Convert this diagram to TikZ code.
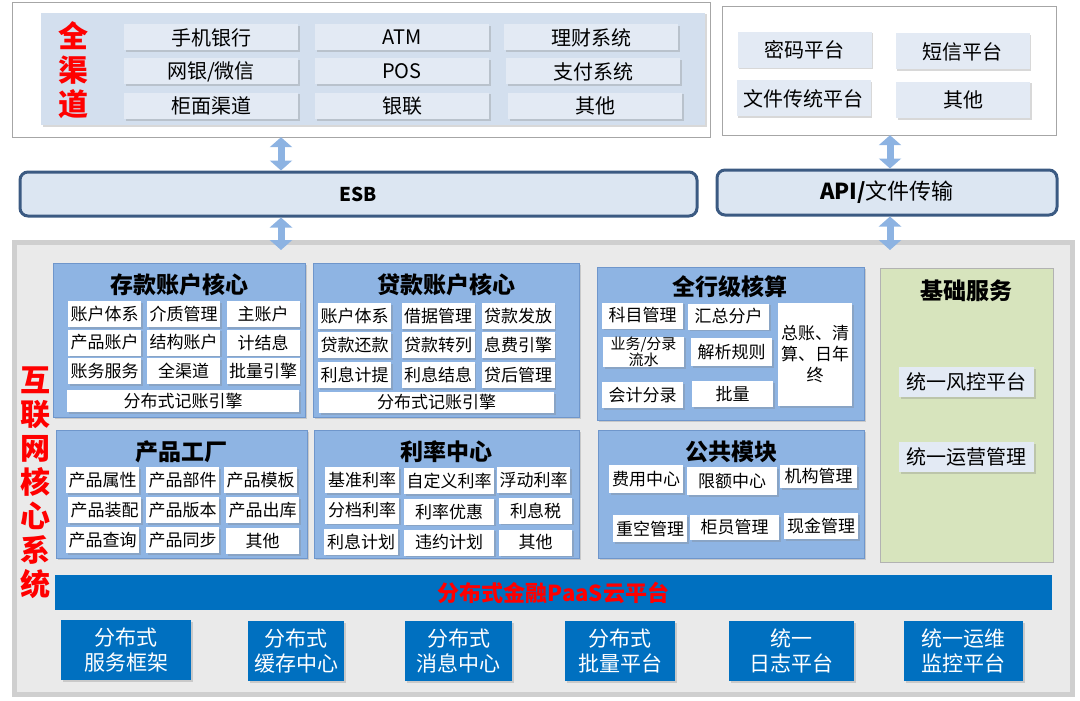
\documentclass[tikz,border=0pt]{standalone}
\usepackage{fontspec}
\setmainfont{Noto Sans CJK SC}
\usetikzlibrary{arrows.meta,shadows}

\definecolor{chanpanel}{HTML}{D3DFEE}
\definecolor{chanitem}{HTML}{E3EAF4}
\definecolor{barfill}{HTML}{DCE6F2}
\definecolor{baredge}{HTML}{3B5A82}
\definecolor{arrowblue}{HTML}{8DB3E2}
\definecolor{modfill}{HTML}{8EB4E3}
\definecolor{modedge}{HTML}{6F96CB}
\definecolor{basefill}{HTML}{D7E4BD}
\definecolor{paasblue}{HTML}{0070C0}
\definecolor{corered}{HTML}{FF0000}
\definecolor{corefill}{HTML}{EAEAEA}
\definecolor{coreedge}{HTML}{CFCFCF}

\tikzset{
  softshadow/.style={drop shadow={shadow xshift=1.5pt,shadow yshift=-1.5pt,opacity=.3}},
  frame/.style={draw=gray!70, fill=white, inner sep=0pt},
  chan/.style={fill=chanitem, softshadow, inner sep=0pt, minimum width=174pt, minimum height=26pt, font=\fontsize{20}{22}\selectfont},
  side/.style={fill=chanitem, softshadow, inner sep=0pt, minimum width=134pt, minimum height=36pt, font=\fontsize{20}{22}\selectfont},
  bus/.style={draw=baredge, line width=3pt, fill=barfill, rounded corners=8pt, inner sep=0pt},
  dblarrow/.style={draw=arrowblue, line width=7pt, {Triangle[width=22pt,length=10pt]}-{Triangle[width=22pt,length=10pt]}},
  module/.style={draw=modedge, fill=modfill, softshadow, inner sep=0pt},
  modtitle/.style={font=\bfseries\fontsize{23}{25}\selectfont, inner sep=0pt},
  cell/.style={fill=white, softshadow, inner sep=0pt, minimum width=73pt, minimum height=26pt, font=\fontsize{17}{19}\selectfont},
  redtext/.style={text=corered, font=\bfseries\fontsize{30}{34}\selectfont, align=center, inner sep=0pt},
  plat/.style={fill=paasblue, softshadow, text=white, inner sep=0pt, minimum height=60pt, align=center, font=\fontsize{21}{25}\selectfont}
}

\begin{document}
\begin{tikzpicture}[x=1pt,y=-1pt]
  \useasboundingbox (0,0) rectangle (1080,701);

  % channels
  \node[frame, minimum width=698pt, minimum height=135pt] (chanframe) at (361,69.5) {};
  \node[fill=chanpanel, softshadow, minimum width=664pt, minimum height=112pt, inner sep=0pt] (chanpanel) at (373,69) {};
  \node[redtext] (quan) at (73,70) {全\\渠\\道};
  \node[chan] (mbank) at (211,37.5) {手机银行};
  \node[chan] (atm) at (402,37.5) {ATM};
  \node[chan] (wealth) at (591,37.5) {理财系统};
  \node[chan] (web) at (211,71.5) {网银/微信};
  \node[chan] (pos) at (402,71.5) {POS};
  \node[chan] (pay) at (593,71.5) {支付系统};
  \node[chan] (counter) at (211,106) {柜面渠道};
  \node[chan] (unionpay) at (402,106) {银联};
  \node[chan] (chanother) at (595,106) {其他};

  \node[frame, minimum width=334pt, minimum height=129pt] (sideframe) at (889,70.5) {};
  \node[side] (cipher) at (804.5,50) {密码平台};
  \node[side] (sms) at (962.5,51.5) {短信平台};
  \node[side] (filesys) at (803.5,98.5) {文件传统平台};
  \node[side] (sideother) at (963,100) {其他};

  % buses
  \node[bus, minimum width=677pt, minimum height=44pt, font=\bfseries\fontsize{19}{21}\selectfont] (esb) at (358.5,194) {ESB};
  \node[bus, minimum width=340pt, minimum height=45pt, font=\fontsize{22}{24}\selectfont] (api) at (887,192.5) {\textbf{API/}文件传输};

  % core frame
  \node[draw=coreedge, line width=5pt, fill=corefill, minimum width=1058pt, minimum height=452pt, inner sep=0pt] (core) at (543.5,468.5) {};
  \node[redtext] (coretext) at (35,483) {互\\联\\网\\核\\心\\系\\统};

  \coordinate (lx) at (281,0);
  \coordinate (rx) at (890,0);
  \draw[dblarrow] (chanframe.south -| lx) -- (esb.north -| lx);
  \draw[dblarrow, shorten >=-10pt] (esb.south -| lx) -- (core.north -| lx);
  \draw[dblarrow] (sideframe.south -| rx) -- (api.north -| rx);
  \draw[dblarrow, shorten >=-10pt] (api.south -| rx) -- (core.north -| rx);

  % deposit core
  \node[module, minimum width=252pt, minimum height=154pt] (deposit) at (179,340) {};
  \node[modtitle] (deptitle) at (179,285) {存款账户核心};
  \node[cell] (dep1) at (104.5,314) {账户体系};
  \node[cell] (dep2) at (183.5,314) {介质管理};
  \node[cell] (dep3) at (263,314) {主账户};
  \node[cell] (dep4) at (104.5,342.5) {产品账户};
  \node[cell] (dep5) at (183.5,342.5) {结构账户};
  \node[cell] (dep6) at (263,342.5) {计结息};
  \node[cell] (dep7) at (104.5,371) {账务服务};
  \node[cell] (dep8) at (183.5,371) {全渠道};
  \node[cell] (dep9) at (263,371) {批量引擎};
  \node[cell, minimum width=232pt, minimum height=22pt] (depledger) at (183,401) {分布式记账引擎};

  % loan core
  \node[module, minimum width=266pt, minimum height=154pt] (loan) at (446,340) {};
  \node[modtitle] (loantitle) at (446,285) {贷款账户核心};
  \node[cell] (loan1) at (354.5,316) {账户体系};
  \node[cell] (loan2) at (438,316) {借据管理};
  \node[cell] (loan3) at (518,316) {贷款发放};
  \node[cell] (loan4) at (354.5,345) {贷款还款};
  \node[cell] (loan5) at (438,345) {贷款转列};
  \node[cell] (loan6) at (518,345) {息费引擎};
  \node[cell] (loan7) at (354.5,375) {利息计提};
  \node[cell] (loan8) at (438,375) {利息结息};
  \node[cell] (loan9) at (518,375) {贷后管理};
  \node[cell, minimum width=235pt, minimum height=21pt] (loanledger) at (436.5,402.5) {分布式记账引擎};

  % bank-wide accounting
  \node[module, minimum width=267pt, minimum height=153pt] (acct) at (730.5,343.5) {};
  \node[modtitle] (accttitle) at (730,287) {全行级核算};
  \node[cell, minimum width=81pt] (subject) at (642.5,315.5) {科目管理};
  \node[cell, minimum width=81pt] (summary) at (728.5,316.5) {汇总分户};
  \node[cell, minimum width=81pt, minimum height=30pt, align=center, font=\fontsize{15}{15}\selectfont] (flow) at (643.5,352) {业务/分录\\流水};
  \node[cell, minimum width=81pt, minimum height=28pt] (parse) at (731.5,352) {解析规则};
  \node[cell, minimum width=81pt] (entry) at (642.5,395) {会计分录};
  \node[cell, minimum width=81pt] (batch) at (732.5,394) {批量};
  \node[cell, minimum width=74pt, minimum height=103pt, align=center, font=\fontsize{17}{21}\selectfont] (ledger) at (815,354.5) {总账、清\\算、日年\\终};

  % product factory
  \node[module, minimum width=251pt, minimum height=128pt] (product) at (181.5,494) {};
  \node[modtitle] (prodtitle) at (181,452) {产品工厂};
  \node[cell] (prod1) at (102.5,480) {产品属性};
  \node[cell] (prod2) at (182.5,480) {产品部件};
  \node[cell] (prod3) at (260.5,480) {产品模板};
  \node[cell] (prod4) at (104.5,510) {产品装配};
  \node[cell] (prod5) at (182.5,510) {产品版本};
  \node[cell] (prod6) at (262.5,510) {产品出库};
  \node[cell] (prod7) at (102.5,540) {产品查询};
  \node[cell] (prod8) at (182.5,540) {产品同步};
  \node[cell] (prod9) at (262.5,541) {其他};

  % rate center
  \node[module, minimum width=265pt, minimum height=128pt] (rate) at (446.5,494) {};
  \node[modtitle] (ratetitle) at (446,452) {利率中心};
  \node[cell, minimum width=74pt] (rate1) at (362,480) {基准利率};
  \node[cell, minimum width=90pt] (rate2) at (449,481) {自定义利率};
  \node[cell, minimum width=73pt] (rate3) at (533.5,480) {浮动利率};
  \node[cell, minimum width=74pt] (rate4) at (362,510.5) {分档利率};
  \node[cell, minimum width=90pt] (rate5) at (449,511.5) {利率优惠};
  \node[cell, minimum width=73pt] (rate6) at (535.5,510.5) {利息税};
  \node[cell, minimum width=74pt] (rate7) at (361,541.5) {利息计划};
  \node[cell, minimum width=90pt] (rate8) at (449,542.5) {违约计划};
  \node[cell, minimum width=73pt] (rate9) at (535.5,542.5) {其他};

  % public modules
  \node[module, minimum width=266pt, minimum height=128pt] (public) at (731,494) {};
  \node[modtitle] (pubtitle) at (731,452) {公共模块};
  \node[cell, minimum width=74pt, minimum height=28pt] (fee) at (646,479) {费用中心};
  \node[cell, minimum width=90pt, minimum height=28pt] (limit) at (732,481) {限额中心};
  \node[cell, minimum width=77pt, minimum height=23pt] (org) at (818.5,476.5) {机构管理};
  \node[cell, minimum width=74pt, minimum height=27pt] (voucher) at (650,528.5) {重空管理};
  \node[cell, minimum width=89pt, minimum height=25pt] (teller) at (734.5,527.5) {柜员管理};
  \node[cell, minimum width=74pt, minimum height=26pt] (cash) at (821,526) {现金管理};

  % basic services
  \node[draw=gray!60, fill=basefill, inner sep=0pt, minimum width=173pt, minimum height=294pt] (base) at (966.5,415) {};
  \node[modtitle] (basetitle) at (966,291) {基础服务};
  \node[side, minimum width=135pt, minimum height=30pt] (risk) at (966.5,382) {统一风控平台};
  \node[side, minimum width=135pt, minimum height=30pt] (ops) at (966.5,457) {统一运营管理};

  % paas
  \node[fill=paasblue, inner sep=0pt, minimum width=997pt, minimum height=35pt, text=corered, font=\bfseries\fontsize{22}{24}\selectfont] (paas) at (553.5,592.5) {分布式金融PaaS云平台};
  \node[plat, minimum width=130pt] (svc) at (126,650) {分布式\\服务框架};
  \node[plat, minimum width=96pt] (cache) at (296,651) {分布式\\缓存中心};
  \node[plat, minimum width=107pt] (msg) at (458.5,651) {分布式\\消息中心};
  \node[plat, minimum width=110pt] (bat) at (620,651) {分布式\\批量平台};
  \node[plat, minimum width=125pt] (log) at (791.5,651) {统一\\日志平台};
  \node[plat, minimum width=119pt] (mon) at (963.5,651) {统一运维\\监控平台};
\end{tikzpicture}
\end{document}
